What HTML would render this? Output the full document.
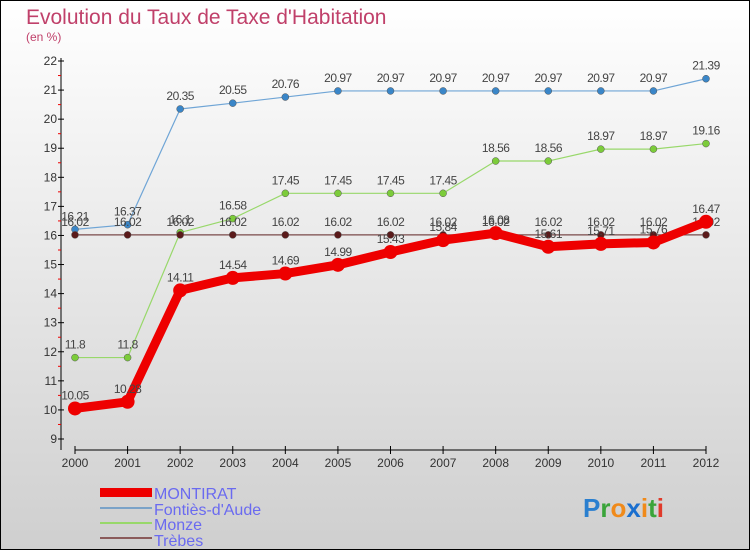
<!DOCTYPE html>
<html><head><meta charset="utf-8"><style>
body{margin:0;width:750px;height:550px;overflow:hidden;font-family:"Liberation Sans",sans-serif}
#c{position:absolute;left:0;top:0;width:748px;height:548px;border:1px solid #000;background:linear-gradient(#ffffff,#cfcfcf)}
</style></head><body>
<div id="c">
<svg id="s" width="750" height="550" style="position:absolute;left:-1px;top:-1px">
<text x="26" y="24" font-size="21" fill="#c0406a">Evolution du Taux de Taxe d'Habitation</text>
<text x="26" y="41" font-size="12" fill="#c0406a">(en %)</text>
<g id="ax"></g><g id="series"></g>
<g>
<rect x="100" y="488" width="52" height="9" fill="#e00"/>
<text x="154" y="499" font-size="16" fill="#6a6af0">MONTIRAT</text>
<line x1="100" y1="508" x2="152" y2="508" stroke="#7ba3c8" stroke-width="2"/>
<text x="154" y="515" font-size="16" fill="#6a6af0">Fontiès-d'Aude</text>
<line x1="100" y1="523" x2="152" y2="523" stroke="#98d86a" stroke-width="2"/>
<text x="154" y="530" font-size="16" fill="#6a6af0">Monze</text>
<line x1="100" y1="538" x2="152" y2="538" stroke="#8a5a5a" stroke-width="2"/>
<text x="154" y="546" font-size="16" fill="#6a6af0">Trèbes</text>
</g>
<g font-size="26" font-weight="bold">
<text x="583" y="517"><tspan fill="#2a7fcf">P</tspan><tspan fill="#3aa43a">r</tspan><tspan fill="#f08a1a">o</tspan><tspan fill="#1a6fcf">x</tspan><tspan fill="#f08a1a">i</tspan><tspan fill="#3aa43a">t</tspan><tspan fill="#e03a2a">i</tspan></text>
</g>
</svg></div>
<script>
const years=[2000,2001,2002,2003,2004,2005,2006,2007,2008,2009,2010,2011,2012];
const montirat=[10.05,10.28,14.11,14.54,14.69,14.99,15.43,15.84,16.08,15.61,15.71,15.76,16.47];
const fonties=[16.21,16.37,20.35,20.55,20.76,20.97,20.97,20.97,20.97,20.97,20.97,20.97,21.39];
const monze=[11.8,11.8,16.1,16.58,17.45,17.45,17.45,17.45,18.56,18.56,18.97,18.97,19.16];
const trebes=[16.02,16.02,16.02,16.02,16.02,16.02,16.02,16.02,16.02,16.02,16.02,16.02,16.02];
const yTicks=[9,10,11,12,13,14,15,16,17,18,19,20,21,22];
const NS="http://www.w3.org/2000/svg";
const X=i=>75+i*(706-75)/12, Y=v=>439-(v-9)*(439-61)/13;
function mk(p,t,a){const e=document.createElementNS(NS,t);for(const k in a)e.setAttribute(k,a[k]);p.appendChild(e);return e;}
const ax=document.getElementById('ax');
mk(ax,'line',{x1:61,y1:58,x2:61,y2:450,stroke:'#000'});
mk(ax,'line',{x1:75,y1:450,x2:706,y2:450,stroke:'#000'});
yTicks.forEach(v=>{
mk(ax,'line',{x1:58,y1:Y(v),x2:64,y2:Y(v),stroke:'#000'});
if(v<22)mk(ax,'line',{x1:58,y1:Y(v+0.5),x2:61,y2:Y(v+0.5),stroke:'#e00'});
const t=mk(ax,'text',{x:57,y:Y(v)+4,'font-size':12,'text-anchor':'end',fill:'#333'});t.textContent=v;


});
years.forEach((y,i)=>{
mk(ax,'line',{x1:X(i),y1:446,x2:X(i),y2:454,stroke:'#000'});
const t=mk(ax,'text',{x:X(i),y:467,'font-size':12,'text-anchor':'middle',fill:'#333'});t.textContent=y;


});
const sg=document.getElementById('series');
function series(name,vals,col,w,r,dot){
const g=mk(sg,'g',{});


mk(g,'polyline',{points:vals.map((v,i)=>X(i)+','+Y(v)).join(' '),fill:'none',stroke:col,'stroke-width':w,'stroke-linejoin':'round'});
vals.forEach((v,i)=>{
const c=mk(g,'circle',{cx:X(i),cy:Y(v),r:r,fill:dot,stroke:dot==='#e00'?'#e00':'#555','stroke-width':dot==='#e00'?0:0.5});


const t=mk(g,'text',{x:X(i),y:Y(v)-9,'font-size':12,'text-anchor':'middle',fill:'#444','letter-spacing':'-0.5'});t.textContent=v;
});
}
series('series-fonties',fonties,'#6fa5d6',1.2,3.5,'#3a86c8');
series('series-monze',monze,'#98d86a',1.2,3.5,'#7ccc3a');
series('series-trebes',trebes,'#7a4a4a',1.2,3.5,'#5a1a1a');
series('series-montirat',montirat,'#e00',9,7,'#e00');
</script>
</body></html>
